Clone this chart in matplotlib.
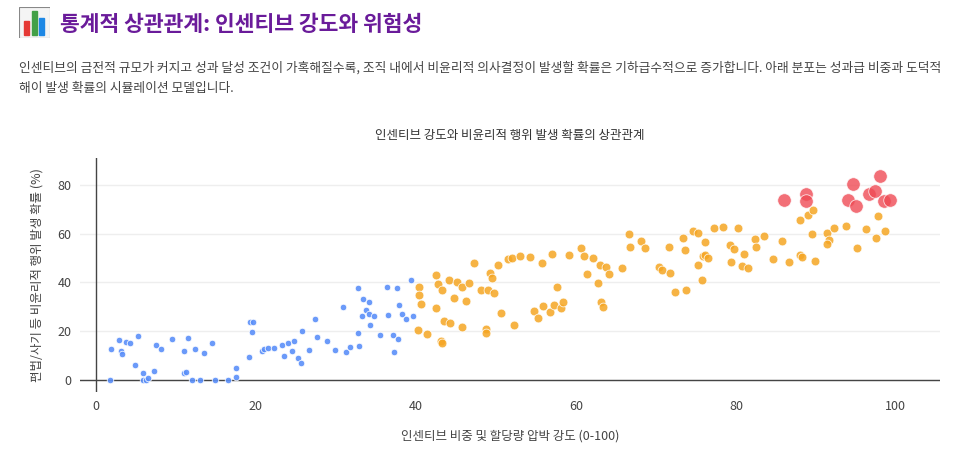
import matplotlib
matplotlib.use("Agg")
import matplotlib.pyplot as plt
from matplotlib.patches import Rectangle

plt.rcParams['font.family'] = ['Noto Sans CJK KR', 'DejaVu Sans']

# Low-incentive group (blue)
blue_x = [1.7, 1.9, 2.9, 3.1, 3.3, 3.7, 4.2, 4.9, 5.2, 5.9, 5.9, 6.2, 6.5, 7.2, 7.5, 8.1, 9.5,
          11.0, 11.0, 11.2, 11.5, 12.0, 12.4, 13.0, 13.5, 14.5, 14.9, 16.5, 17.5, 17.5, 19.1,
          19.3, 19.6, 19.5, 20.8, 21.0, 21.5, 22.3, 23.2, 23.5, 24.0, 24.5, 24.7, 25.3, 25.6,
          25.8, 26.6, 27.4, 27.6, 28.9, 29.9, 30.9, 31.3, 31.7, 32.8, 32.8, 32.9, 33.3, 33.4,
          33.75, 34.1, 34.1, 34.3, 34.75, 35.5, 36.4, 36.5, 37.1, 37.2, 37.6, 37.8, 37.9, 38.3,
          38.7, 39.4, 39.6]
blue_y = [0, 12.6, 16.4, 11.9, 10.5, 15.6, 15.0, 5.9, 18.0, 2.7, 0, 0, 0.8, 3.4, 14.4, 12.7, 16.8,
          11.9, 2.6, 3.2, 17.0, 0, 12.7, 0, 11.0, 15.2, 0, 0, 4.9, 1.1, 9.4,
          23.8, 23.6, 19.6, 11.8, 12.7, 13.0, 13.0, 14.4, 9.7, 15.2, 11.9, 16.0, 8.9, 6.7,
          20.1, 12.4, 24.9, 17.4, 15.7, 12.4, 29.8, 11.4, 13.4, 37.6, 19.0, 13.9, 26.3, 33.2,
          28.7, 32.0, 26.8, 22.3, 26.0, 18.3, 37.9, 26.4, 18.5, 11.4, 37.5, 16.8, 30.6, 27.1,
          24.9, 41.0, 26.3]

# Mid group (orange)
orange_x = [40.4, 40.4, 40.6, 40.2, 41.4, 42.5, 42.7, 43.2, 42.5, 43.1, 43.2, 43.5, 44.25, 44.1,
            44.75, 45.1, 45.75, 46.25, 45.7, 46.6, 47.3, 48.1, 49.0, 48.75, 48.75, 49.3, 49.5,
            49.8, 50.2, 50.6, 51.5, 52.0, 52.2, 53.0, 54.25, 54.8, 55.2, 55.8, 55.9, 56.7, 57.0,
            57.3, 57.6, 58.1, 58.4, 59.1, 60.6, 61.0, 62.1, 61.4, 62.8, 63.0, 63.1, 63.4, 63.8,
            64.1, 65.8, 66.6, 66.7, 68.1, 68.6, 70.4, 70.75, 71.6, 71.8, 72.4, 73.4, 73.6, 73.7,
            74.6, 75.2, 75.2, 76.1, 75.9, 76.1, 76.5, 75.8, 77.25, 78.4, 79.25, 79.7, 79.4, 80.2,
            81.0, 80.8, 81.5, 82.4, 82.5, 83.5, 84.6, 85.8, 86.6, 88.0, 89.0, 89.6, 89.5, 88.0,
            88.2, 89.9, 91.4, 91.6, 91.4, 92.3, 93.7, 95.1, 96.2, 97.5, 97.7, 98.6]
orange_y = [37.9, 34.7, 31.0, 20.5, 18.6, 42.8, 39.1, 36.9, 29.4, 16.1, 15.0, 24.3, 23.2, 41.1,
            33.6, 40.3, 37.9, 32.5, 21.6, 39.7, 47.9, 36.9, 37.0, 20.8, 19.2, 43.8, 41.7,
            35.6, 46.9, 27.5, 49.5, 49.8, 22.3, 50.7, 50.3, 28.4, 25.3, 47.9, 30.2, 27.9, 51.7,
            30.5, 38.0, 29.5, 32.0, 51.2, 53.9, 50.9, 50.0, 43.4, 39.5, 47.2, 31.9, 29.8, 46.4,
            43.5, 45.8, 59.6, 54.4, 56.9, 54.2, 46.2, 45.1, 54.4, 44.0, 36.0, 58.3, 53.3, 36.9,
            61.0, 60.4, 46.9, 56.6, 50.6, 51.3, 49.9, 41.0, 62.4, 62.8, 55.2, 53.7, 48.5, 62.4,
            51.7, 46.5, 45.8, 57.7, 54.4, 59.0, 49.5, 56.9, 48.3, 65.6, 67.7, 69.5, 60.0, 51.3,
            50.3, 48.9, 60.3, 57.4, 55.9, 62.1, 62.9, 54.2, 61.7, 58.3, 67.0, 61.0]

# High-risk group (red)
red_x = [86.0, 88.8, 88.8, 94.0, 94.6, 95.0, 96.6, 97.4, 98.0, 98.5, 99.3]
red_y = [73.6, 76.2, 73.4, 73.7, 80.3, 71.3, 76.3, 77.4, 83.7, 73.3, 73.8]

x_ticks = [0, 20, 40, 60, 80, 100]
y_ticks = [0, 20, 40, 60, 80]

fig = plt.figure(figsize=(9.75, 4.5), dpi=100)

# header: little bar-chart icon + title + description
icon = fig.add_axes([0.019, 0.915, 0.032, 0.07])
icon.add_patch(Rectangle((0, 0), 1, 1, facecolor='#f4f4f4', edgecolor='#888', lw=0.8))
for bx, bh, bc in [(0.18, 0.45, '#e53935'), (0.42, 0.75, '#43a047'), (0.66, 0.55, '#1e88e5')]:
    icon.add_patch(Rectangle((bx, 0.1), 0.16, bh, color=bc))
icon.set_xlim(0, 1)
icon.set_ylim(0, 1)
icon.axis('off')

fig.text(0.062, 0.945, "통계적 상관관계: 인센티브 강도와 위험성", fontsize=15.5,
         fontweight='bold', color='#6a1b9a', va='center')
fig.text(0.019, 0.848, "인센티브의 금전적 규모가 커지고 성과 달성 조건이 가혹해질수록, 조직 내에서 비윤리적 의사결정이 "
         "발생할 확률은 기하급수적으로 증가합니다. 아래 분포는 성과급 비중과 도덕적", fontsize=9.2, color='#444', va='center')
fig.text(0.019, 0.803, "해이 발생 확률의 시뮬레이션 모델입니다.", fontsize=9.2, color='#444', va='center')

ax = fig.add_axes([0.082, 0.129, 0.882, 0.52])
ax.scatter(blue_x, blue_y, s=22, color='#5b8ff9', edgecolors='white', linewidths=0.6, alpha=0.9, zorder=3)
ax.scatter(orange_x, orange_y, s=40, color='#f5a623', edgecolors='white', linewidths=0.6, alpha=0.85, zorder=3)
ax.scatter(red_x, red_y, s=95, color='#ef4b55', edgecolors='white', linewidths=0.6, alpha=0.8, zorder=4)

ax.set_xlim(-2, 105.5)
ax.set_ylim(-5, 91)
ax.set_xticks(x_ticks)
ax.set_yticks(y_ticks)
ax.grid(axis='y', color='#eeeeee', lw=1)
ax.axhline(0, color='#444', lw=1, zorder=2)
ax.axvline(0, color='#444', lw=1, zorder=2)
for s in ax.spines.values():
    s.set_visible(False)
ax.tick_params(length=0, labelsize=9, colors='#444', pad=6)
ax.set_title("인센티브 강도와 비윤리적 행위 발생 확률의 상관관계", fontsize=9, color='#333', pad=14)
ax.set_xlabel("인센티브 비중 및 할당량 압박 강도 (0-100)", fontsize=9, color='#444', labelpad=12)
ax.set_ylabel("편법/사기 등 비윤리적 행위 발생 확률 (%)", fontsize=9, color='#444', labelpad=10)

fig.savefig("out.png", dpi=100)
